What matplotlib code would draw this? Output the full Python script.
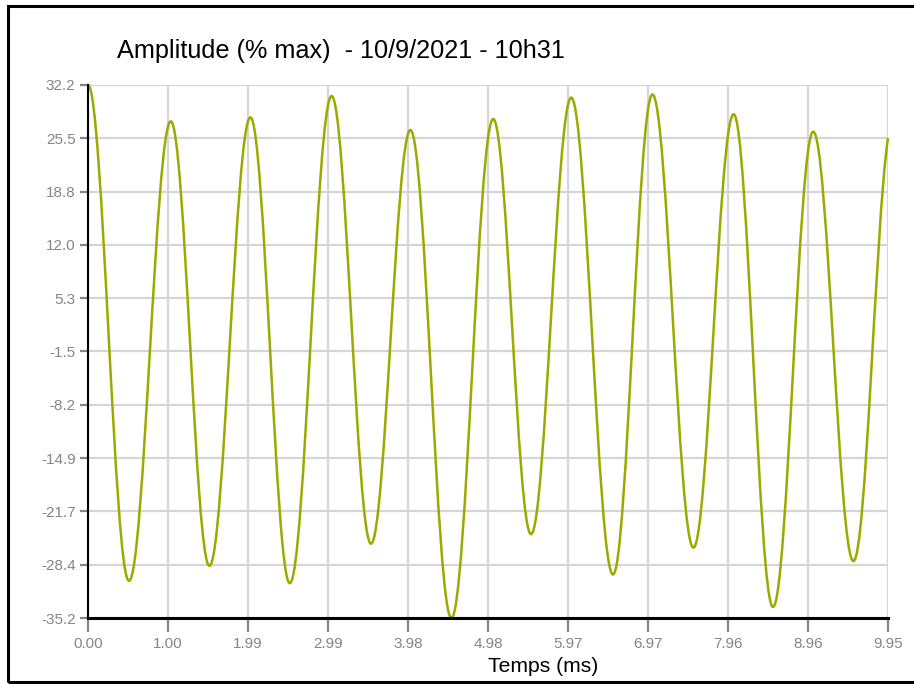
import numpy as np
import matplotlib
matplotlib.use('Agg')
import matplotlib.pyplot as plt
from matplotlib.path import Path
from matplotlib.patches import PathPatch, Rectangle

# Extremes of the signal (time in ms, amplitude in % max)
times = [0.00, 0.51, 1.03, 1.51, 2.02, 2.51, 3.03, 3.52, 4.01, 4.52, 5.04,
         5.51, 6.01, 6.53, 7.02, 7.53, 8.03, 8.52, 9.02, 9.52, 9.95]
values = [32.2, -30.5, 27.6, -28.6, 28.1, -30.8, 30.8, -25.8, 26.5, -35.2, 27.9,
          -24.6, 30.6, -29.7, 31.0, -26.3, 28.5, -33.8, 26.3, -28.0, 25.5]

x_labels = ['0.00', '1.00', '1.99', '2.99', '3.98', '4.98', '5.97', '6.97', '7.96', '8.96', '9.95']
y_labels = ['32.2', '25.5', '18.8', '12.0', '5.3', '-1.5', '-8.2', '-14.9', '-21.7', '-28.4', '-35.2']

title = 'Amplitude (% max)  - 10/9/2021 - 10h31'
x_title = 'Temps (ms)'

line_color = '#99ab00'
grid_color = '#d6d6d6'
tick_color = '#858585'

plt.rcParams['font.family'] = ['Liberation Sans', 'DejaVu Sans']

fig = plt.figure(figsize=(9.14, 6.84), dpi=100)
ax = fig.add_axes([88 / 914, 1 - 618 / 684, 800 / 914, 533 / 684])

xmin, xmax = 0.0, 9.95
ymin, ymax = -35.2, 32.2
ax.set_xlim(xmin, xmax)
ax.set_ylim(ymin, ymax)

# smooth curve through the extremes (cubic bezier, flat at each extreme)
h = 0.363
verts = [(times[0], values[0])]
codes = [Path.MOVETO]
for i in range(1, len(times)):
    t0, v0 = times[i - 1], values[i - 1]
    t1, v1 = times[i], values[i]
    dt = t1 - t0
    c1 = (t0 + h * dt, v0)
    if i == len(times) - 1:
        c2 = (t1 - h * dt, v1 - 0.2 * (v1 - v0))
    else:
        c2 = (t1 - h * dt, v1)
    verts += [c1, c2, (t1, v1)]
    codes += [Path.CURVE4] * 3
curve = PathPatch(Path(verts, codes), facecolor='none', edgecolor=line_color,
                  lw=1.8, transform=ax.transData, zorder=2, clip_on=False)
ax.add_patch(curve)

ax.set_xticks(np.linspace(xmin, xmax, len(x_labels)))
ax.set_xticklabels(x_labels)
ax.set_yticks(np.linspace(ymax, ymin, len(y_labels)))
ax.set_yticklabels(y_labels)

ax.grid(True, color=grid_color, lw=1.6, zorder=0)
ax.set_axisbelow(True)
ax.tick_params(axis='x', direction='out', length=10, width=1.6, color=tick_color,
               labelcolor=tick_color, labelsize=11, pad=4)
ax.tick_params(axis='y', direction='out', length=6, width=1.6, color=tick_color,
               labelcolor=tick_color, labelsize=11, pad=3)

for side in ['top', 'right']:
    ax.spines[side].set_visible(False)
ax.spines['left'].set_linewidth(1.5)
ax.spines['bottom'].set_linewidth(2.2)
ax.spines['left'].set_zorder(3)
ax.spines['bottom'].set_zorder(3)

fig.text(117 / 914, 1 - 58 / 684, title, fontsize=18.2, ha='left', va='baseline')
fig.text(488 / 914, 1 - 672 / 684, x_title, fontsize=15.2, ha='left', va='baseline')

# frame around the figure (right side runs past the image)
frame = Rectangle((8 / 914, 1 - 682 / 684), 2, 676 / 684, fill=False, ec='black',
                  lw=2.2, transform=fig.transFigure, clip_on=False)
fig.patches.append(frame)

fig.savefig('out.png', dpi=100)
